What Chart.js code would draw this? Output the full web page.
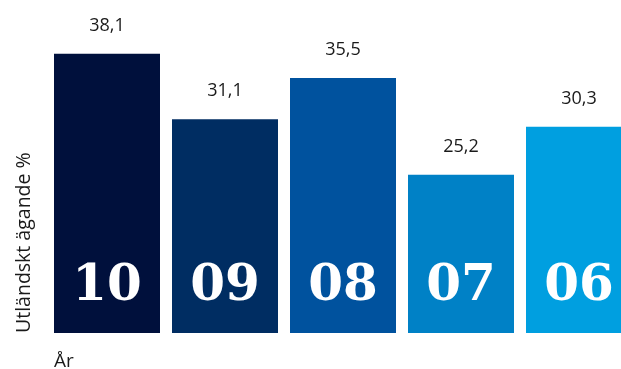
<!DOCTYPE html>
<html>
<head>
<meta charset="utf-8">
<script src="https://cdn.jsdelivr.net/npm/chart.js@4"></script>
<style>
html,body{margin:0;padding:0;background:#fff;overflow:hidden;}
#wrap{width:640px;height:369px;position:relative;}
</style>
</head>
<body>
<div id="wrap"><canvas id="c" width="640" height="369"></canvas></div>
<script>
const categories = ['10', '09', '08', '07', '06'];
const values = [38.1, 31.1, 35.5, 25.2, 30.3];
const valueLabels = ['38,1', '31,1', '35,5', '25,2', '30,3'];
const colors = ['#00103C', '#002D62', '#00529E', '#0081C6', '#009FE0'];
const yTitle = 'Utländskt ägande %';
const xTitle = 'År';

const labelPlugin = {
  id: 'labels',
  afterDatasetsDraw(chart) {
    const ctx = chart.ctx;
    const meta = chart.getDatasetMeta(0);
    ctx.save();
    meta.data.forEach((bar, i) => {
      ctx.fillStyle = '#1a1a1a';
      ctx.font = '18px "Open Sans"';
      ctx.textAlign = 'center';
      ctx.textBaseline = 'middle';
      ctx.fillText(valueLabels[i], bar.x, bar.y - 28);
      ctx.fillStyle = '#ffffff';
      ctx.font = 'bold 50px "DejaVu Serif"';
      ctx.textBaseline = 'alphabetic';
      ctx.fillText(categories[i], bar.x, 300);
    });
    // axis titles
    const first = meta.data[0];
    const left = first.x - first.width / 2;
    ctx.fillStyle = '#1a1a1a';
    ctx.font = '19px "Open Sans"';
    ctx.textAlign = 'left';
    ctx.textBaseline = 'alphabetic';
    ctx.fillText(xTitle, left, 367);
    ctx.translate(30, chart.chartArea.bottom);
    ctx.rotate(-Math.PI / 2);
    ctx.font = '19.5px "Open Sans"';
    ctx.textAlign = 'left';
    ctx.fillText(yTitle, 0, 0);
    ctx.restore();
  }
};

new Chart(document.getElementById('c'), {
  type: 'bar',
  data: {
    labels: categories,
    datasets: [{
      data: values,
      backgroundColor: colors,
      borderWidth: 0,
      categoryPercentage: 1,
      barPercentage: 106 / 118
    }]
  },
  options: {
    responsive: false,
    animation: false,
    layout: { padding: { left: 48, right: 2, top: 20, bottom: 36 } },
    plugins: { legend: { display: false }, tooltip: { enabled: false } },
    scales: {
      x: { display: false },
      y: { display: false, min: 8.3, max: 41.7 }
    }
  },
  plugins: [labelPlugin]
});
</script>
</body>
</html>
